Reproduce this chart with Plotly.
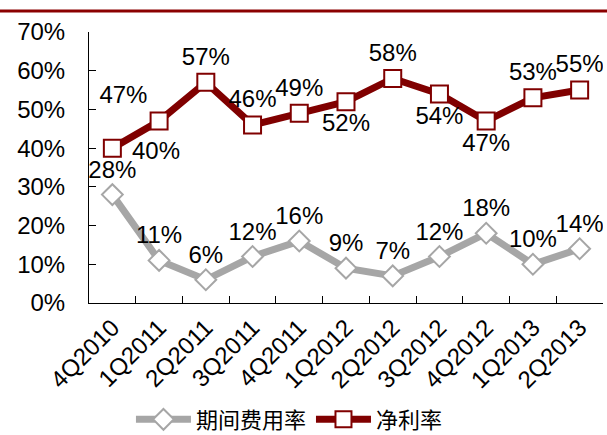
import plotly.graph_objects as go

quarters = ["4Q2010", "1Q2011", "2Q2011", "3Q2011", "4Q2011", "1Q2012",
            "2Q2012", "3Q2012", "4Q2012", "1Q2013", "2Q2013"]
expense_ratio = [0.28, 0.11, 0.06, 0.12, 0.16, 0.09, 0.07, 0.12, 0.18, 0.10, 0.14]
net_margin = [0.40, 0.47, 0.57, 0.46, 0.49, 0.52, 0.58, 0.54, 0.47, 0.53, 0.55]

# label placement per point for the net margin series
net_pos = ["middle right", "top left", "top center", "top center", "top center",
           "bottom center", "top center", "bottom center", "bottom center",
           "top center", "top center"]

FONT = "Liberation Sans, Arial, Noto Sans CJK SC"
GREY = "#A6A6A6"
RED = "#800000"

net_text = [f"{v*100:.0f}%" for v in net_margin]
net_text[0] = ""  # placed separately to sit clear of the 28% label

fig = go.Figure()
fig.add_trace(go.Scatter(
    x=quarters, y=expense_ratio, name="期间费用率",
    mode="lines+markers+text",
    line=dict(color=GREY, width=7),
    marker=dict(symbol="diamond", size=16, color="white", line=dict(color=GREY, width=2)),
    text=[f"{v*100:.0f}%" for v in expense_ratio],
    textposition="top center",
    textfont=dict(size=24, color="black"),
))
fig.add_trace(go.Scatter(
    x=quarters, y=net_margin, name="净利率",
    mode="lines+markers+text",
    line=dict(color=RED, width=7),
    marker=dict(symbol="square", size=17, color="white", line=dict(color=RED, width=2)),
    text=net_text,
    textposition=net_pos,
    textfont=dict(size=24, color="black"),
))

fig.add_annotation(x=quarters[0], y=net_margin[0], text=f"{net_margin[0]*100:.0f}%",
                   showarrow=False, xanchor="center", yanchor="middle",
                   xshift=44, yshift=-2, font=dict(size=24, color="black"))

# dark red rule across the top (title band)
fig.add_shape(type="line", xref="paper", yref="paper",
              x0=-89/514, x1=1+4/514, y0=1.0775, y1=1.0775,
              line=dict(color="#8B0000", width=3))

fig.update_layout(
    width=607, height=435,
    margin=dict(l=89, r=4, t=32, b=132, autoexpand=False),
    paper_bgcolor="white", plot_bgcolor="white",
    font=dict(family=FONT, size=24, color="black"),
    showlegend=True,
    legend=dict(orientation="h", x=0.39, xanchor="center", y=-0.43, yanchor="middle",
                itemwidth=55,
                font=dict(size=22, family="Noto Sans CJK SC, Liberation Sans")),
    xaxis=dict(range=[-0.5, 10.5], showline=True, linecolor="black", linewidth=1,
               ticks="inside", tickson="boundaries", ticklen=7, tickcolor="black",
               tickangle=-45, showgrid=False, mirror=False, automargin=False),
    yaxis=dict(range=[0, 0.7], dtick=0.1, tickformat=".0%", showline=True,
               linecolor="black", linewidth=1, ticks="inside", ticklen=7,
               tickcolor="black", showgrid=False, zeroline=False,
               ticklabelstandoff=18, automargin=False),
)

fig.write_html("out.html", config={"displayModeBar": False},
               post_script="document.body.style.margin='0';")
